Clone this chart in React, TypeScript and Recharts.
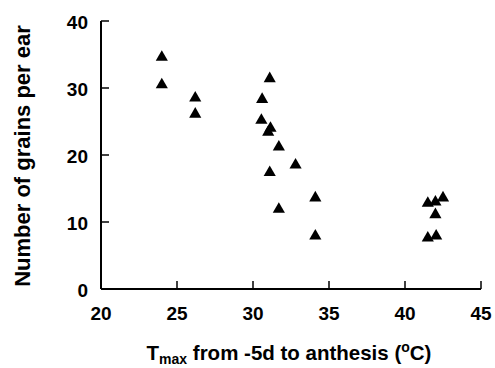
import React from 'react';
import { ScatterChart, Scatter, XAxis, YAxis, ZAxis } from 'recharts';

const tempMax = [24.0, 24.0, 26.2, 26.2, 31.1, 30.6, 30.55, 31.15, 31.0, 31.7, 32.8, 31.1, 31.7, 34.1, 34.1, 41.5, 42.0, 42.5, 42.0, 41.5, 42.05];
const grainsPerEar = [34.6, 30.5, 28.5, 26.1, 31.4, 28.3, 25.2, 24.0, 23.4, 21.2, 18.5, 17.4, 11.9, 13.6, 7.9, 12.8, 13.0, 13.6, 11.1, 7.6, 7.9];
const xTicks = [20, 25, 30, 35, 40, 45];
const yTicks = [0, 10, 20, 30, 40];

const data = tempMax.map((x, i) => ({ x, y: grainsPerEar[i] }));

const FONT = '"Liberation Sans", Arial, sans-serif';

const YTick = (props: any) => {
  const { x, y, payload } = props;
  return (
    <g>
      <line x1={x} x2={x + 8} y1={y} y2={y} stroke="#000" strokeWidth={1.5} />
      <text x={x - 13} y={y + 8} textAnchor="end" fontFamily={FONT} fontWeight="bold" fontSize={19} fill="#000">
        {payload.value}
      </text>
    </g>
  );
};

const XTick = (props: any) => {
  const { x, y, payload } = props;
  return (
    <g>
      <line x1={x} x2={x} y1={y} y2={y - 8} stroke="#000" strokeWidth={1.5} />
      <text x={x} y={y + 31} textAnchor="middle" fontFamily={FONT} fontWeight="bold" fontSize={19} fill="#000">
        {payload.value}
      </text>
    </g>
  );
};

const XLabel = () => (
  <text x={289} y={360} textAnchor="middle" fontFamily={FONT} fontWeight="bold" fontSize={20.5} fill="#000">
    <tspan>T</tspan>
    <tspan dy={4} fontSize={14}>max</tspan>
    <tspan dy={-4}> from -5d to anthesis (</tspan>
    <tspan dy={-8} fontSize={14}>o</tspan>
    <tspan dy={8}>C)</tspan>
  </text>
);

const YLabel = () => (
  <text x={29.5} y={156} transform="rotate(-90 29.5 156)" textAnchor="middle" fontFamily={FONT} fontWeight="bold" fontSize={22} fill="#000">
    Number of grains per ear
  </text>
);

export default function App() {
  return (
    <div style={{ position: 'absolute', left: 0, top: 0, background: '#fff' }}>
      <ScatterChart width={495} height={368} margin={{ top: 21, right: 14, bottom: 0, left: 0 }}>
        <XAxis
          type="number"
          dataKey="x"
          domain={[20, 45]}
          ticks={xTicks}
          interval={0}
          height={79}
          tickSize={0}
          tickMargin={0}
          tickLine={false}
          axisLine={{ stroke: '#000', strokeWidth: 2 }}
          tick={<XTick />}
          label={{ content: () => <XLabel /> }}
        />
        <YAxis
          type="number"
          dataKey="y"
          domain={[0, 40]}
          ticks={yTicks}
          interval={0}
          width={101}
          tickSize={0}
          tickMargin={0}
          tickLine={false}
          axisLine={{ stroke: '#000', strokeWidth: 2 }}
          tick={<YTick />}
          label={{ content: () => <YLabel /> }}
        />
        <ZAxis range={[70, 70]} />
        <Scatter data={data} shape="triangle" fill="#000" isAnimationActive={false} />
      </ScatterChart>
    </div>
  );
}
